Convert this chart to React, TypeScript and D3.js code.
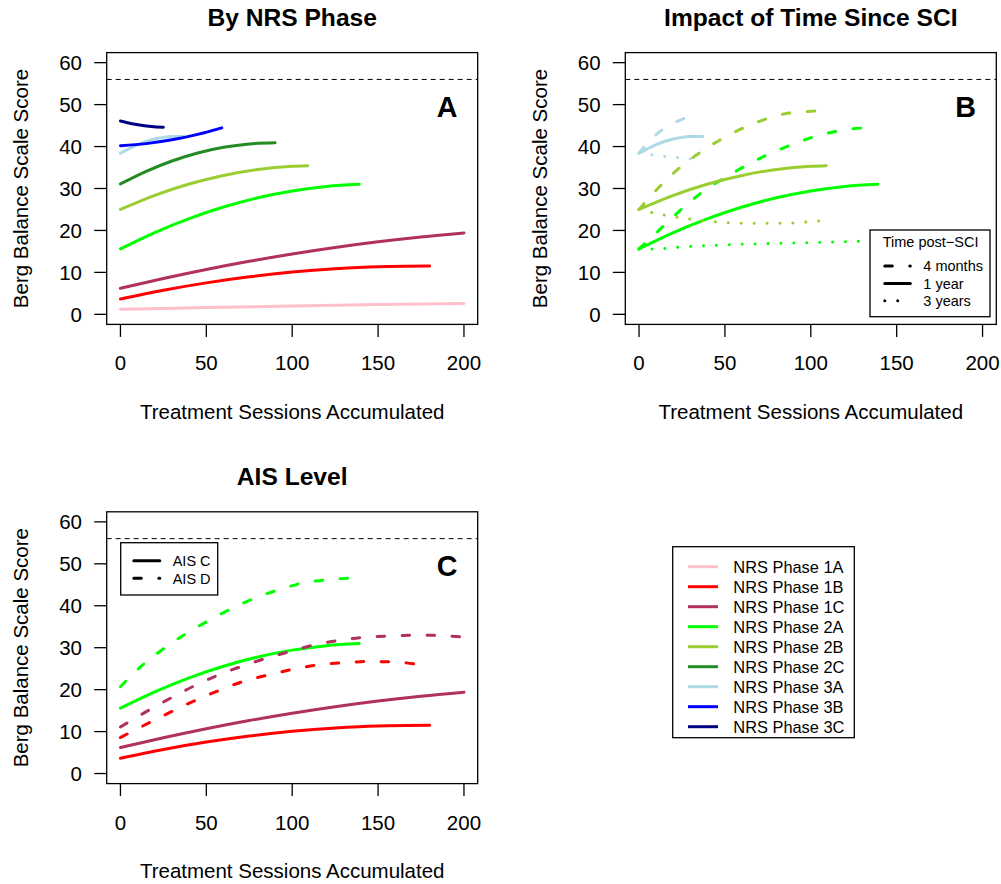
import * as d3 from "d3";

// NRS phase names and colours
const phaseNames = [
  "NRS Phase 1A", "NRS Phase 1B", "NRS Phase 1C",
  "NRS Phase 2A", "NRS Phase 2B", "NRS Phase 2C",
  "NRS Phase 3A", "NRS Phase 3B", "NRS Phase 3C",
];
const phaseColors = [
  "#FFC0CB", "#FF0000", "#B03060",
  "#00FF00", "#9ACD32", "#228B22",
  "#ADD8E6", "#0000FF", "#000080",
];

const xTicks = [0, 50, 100, 150, 200];
const yTicks = [0, 10, 20, 30, 40, 50, 60];
const maxBerg = 56;

type Pt = [number, number];

// [sessions, berg score]
const phase1A: Pt[] = [[0, 1.2], [50, 1.6], [100, 2.0], [150, 2.35], [200, 2.6]];
const phase1B: Pt[] = [[0, 3.65], [25, 5.74], [50, 7.5], [75, 8.95], [100, 10.07], [125, 10.87], [150, 11.35], [180, 11.5]];
const phase1C: Pt[] = [[0, 6.2], [25, 8.54], [50, 10.69], [75, 12.64], [100, 14.39], [125, 15.94], [150, 17.3], [175, 18.45], [200, 19.4]];
const phase2A: Pt[] = [[0, 15.6], [20, 19.49], [40, 22.82], [60, 25.58], [80, 27.79], [100, 29.42], [120, 30.49], [139, 31.0]];
const phase2B: Pt[] = [[0, 25], [20, 28.36], [40, 31.07], [60, 33.12], [80, 34.53], [100, 35.28], [109, 35.41]];
const phase2C: Pt[] = [[0, 31.1], [15, 34.1], [30, 36.56], [45, 38.46], [60, 39.82], [75, 40.63], [90, 40.9]];
const phase3A: Pt[] = [[0, 38.4], [10, 40.48], [20, 41.82], [30, 42.42], [37, 42.4]];
const phase3B: Pt[] = [[0, 40.2], [15, 40.7], [30, 41.6], [45, 42.9], [59, 44.45]];
const phase3C: Pt[] = [[0, 46.1], [6, 45.5], [12, 45.1], [18, 44.8], [25, 44.6]];

// panel B: 4 months / 3 years post-SCI
const phase2A4mo: Pt[] = [[0, 15.6], [12, 20.2], [27, 25.9], [38, 29.5], [50, 32.6], [62, 35.4], [74, 37.9], [88, 40.3], [101, 42.2], [117, 43.8], [132, 44.5]];
const phase2A3yr: Pt[] = [[0, 15.6], [8, 15.6], [30, 16.2], [60, 16.7], [90, 17.0], [112, 17.25], [140, 17.5]];
const phase2B4mo: Pt[] = [[0, 25], [10, 29.6], [25, 35.4], [40, 39.8], [55, 43.3], [70, 46.0], [85, 47.8], [105, 48.5]];
const phase2B3yr: Pt[] = [[0, 25], [8, 24.2], [23, 23.1], [38, 22.3], [52, 21.85], [67, 21.7], [82, 21.7], [97, 22.0], [105, 22.25]];
const phase3A4mo: Pt[] = [[0, 38.4], [5, 40.9], [10, 42.9], [15, 44.4], [20, 45.6], [25, 46.5], [29, 47.1]];
const phase3A3yr: Pt[] = [[0, 38.4], [8, 38.0], [16, 37.6], [23, 37.35], [31, 37.0]];

// panel C: AIS D
const phase1BaisD: Pt[] = [[0, 8.6], [22, 13.2], [44, 17.5], [58, 19.9], [71, 21.9], [86, 23.5], [101, 24.9], [115, 25.9], [130, 26.4], [144, 26.7], [159, 26.6], [174, 26.0]];
const phase1CaisD: Pt[] = [[0, 11.1], [20, 15.9], [42, 20.7], [57, 23.5], [71, 25.6], [85, 27.5], [99, 29.1], [112, 30.6], [128, 31.8], [142, 32.5], [157, 32.8], [172, 33.0], [186, 32.9], [200, 32.5]];
const phase2AaisD: Pt[] = [[0, 20.7], [13, 25.9], [27, 30.3], [40, 33.8], [52, 36.6], [65, 39.4], [78, 41.8], [92, 43.8], [106, 45.4], [120, 46.2], [136, 46.6]];

const timeLabels = ["4 months", "1 year", "3 years"];
const aisLabels = ["AIS C", "AIS D"];

const FONT = "Liberation Sans, Arial, Helvetica, sans-serif";
const DASH = "7.5 17.5";
const DOT = "0.01 12.9";

interface Series { data: Pt[]; color: string; dash?: string }

const panelA: Series[] = [phase1A, phase1B, phase1C, phase2A, phase2B, phase2C, phase3A, phase3B, phase3C]
  .map((data, i) => ({ data, color: phaseColors[i] }));

const panelB: Series[] = [
  { data: phase2A, color: phaseColors[3] },
  { data: phase2A4mo, color: phaseColors[3], dash: DASH },
  { data: phase2A3yr, color: phaseColors[3], dash: DOT },
  { data: phase2B, color: phaseColors[4] },
  { data: phase2B4mo, color: phaseColors[4], dash: DASH },
  { data: phase2B3yr, color: phaseColors[4], dash: DOT },
  { data: phase3A, color: phaseColors[6] },
  { data: phase3A4mo, color: phaseColors[6], dash: DASH },
  { data: phase3A3yr, color: phaseColors[6], dash: DOT },
];

const panelC: Series[] = [
  { data: phase1B, color: phaseColors[1] },
  { data: phase1C, color: phaseColors[2] },
  { data: phase2A, color: phaseColors[3] },
  { data: phase1BaisD, color: phaseColors[1], dash: DASH },
  { data: phase1CaisD, color: phaseColors[2], dash: DASH },
  { data: phase2AaisD, color: phaseColors[3], dash: DASH },
];

const PL = 106.7, PR = 477.7, PT = 52.6, PB = 324.4;

function Panel({ ox, oy, title, letter, series, id, children }: {
  ox: number; oy: number; title: string; letter: string; series: Series[]; id: string; children?: any;
}) {
  const x = d3.scaleLinear().domain([-8, 208]).range([PL + ox, PR + ox]);
  const y = d3.scaleLinear().domain([-2.4, 62.4]).range([PB + oy, PT + oy]);
  const line = d3.line<Pt>().x(d => x(d[0])).y(d => y(d[1])).curve(d3.curveMonotoneX);
  const [x0, x1] = x.range();
  const [y0, y1] = y.range();
  const cx = (x0 + x1) / 2;
  const cy = (y0 + y1) / 2;
  return (
    <g fontFamily={FONT}>
      <clipPath id={id}>
        <rect x={x0} y={y1} width={x1 - x0} height={y0 - y1} />
      </clipPath>
      <text x={cx} y={26 + oy} textAnchor="middle" fontWeight="bold" fontSize={24.6}>{title}</text>
      <line x1={x0} x2={x1} y1={y(maxBerg)} y2={y(maxBerg)} stroke="#000" strokeWidth={1} strokeDasharray="5 4" />
      <g clipPath={`url(#${id})`}>
        {series.map((s, i) => (
          <path key={i} d={line(s.data) || ""} fill="none" stroke={s.color} strokeWidth={3}
            strokeLinecap="round" strokeDasharray={s.dash} />
        ))}
      </g>
      <rect x={x0} y={y1} width={x1 - x0} height={y0 - y1} fill="none" stroke="#000" strokeWidth={1.3} />
      {xTicks.map(t => (
        <g key={t}>
          <line x1={x(t)} x2={x(t)} y1={y0} y2={y0 + 12.5} stroke="#000" strokeWidth={1.3} />
          <text x={x(t)} y={y0 + 46} textAnchor="middle" fontSize={20.5}>{t}</text>
        </g>
      ))}
      {yTicks.map(t => (
        <g key={t}>
          <line x1={x0} x2={x0 - 12.5} y1={y(t)} y2={y(t)} stroke="#000" strokeWidth={1.3} />
          <text x={x0 - 24.7} y={y(t) + 7.3} textAnchor="end" fontSize={20.5}>{t}</text>
        </g>
      ))}
      <text x={cx} y={y0 + 94.6} textAnchor="middle" fontSize={20.5}>Treatment Sessions Accumulated</text>
      <text transform={`translate(${x0 - 78.7},${cy}) rotate(-90)`} textAnchor="middle" fontSize={20.5}>
        Berg Balance Scale Score
      </text>
      <text x={x1 - 30.7} y={y1 + 64.1} textAnchor="middle" fontWeight="bold" fontSize={28.7}>{letter}</text>
      {children}
    </g>
  );
}

export default function App() {
  const timeDash = [DASH, undefined, DOT];
  return (
    <svg width={1001} height={884} style={{ position: "absolute", left: 0, top: 0, background: "#fff" }}>
      <rect width={1001} height={884} fill="#fff" />
      <Panel ox={0} oy={0} title="By NRS Phase" letter="A" series={panelA} id="clipA" />
      <Panel ox={518.6} oy={0} title="Impact of Time Since SCI" letter="B" series={panelB} id="clipB">
        <g fontFamily={FONT} fontSize={14.5}>
          <rect x={870} y={230} width={120} height={86.7} fill="#fff" stroke="#000" strokeWidth={1.3} />
          <text x={882.7} y={247}>Time post−SCI</text>
          {timeLabels.map((t, i) => (
            <g key={t}>
              <line x1={884.8} x2={910.3} y1={266 + i * 17.4} y2={266 + i * 17.4} stroke="#000" strokeWidth={3}
                strokeLinecap="round" strokeDasharray={timeDash[i]} />
              <text x={923.3} y={271.2 + i * 17.4}>{t}</text>
            </g>
          ))}
        </g>
      </Panel>
      <Panel ox={0} oy={459.2} title="AIS Level" letter="C" series={panelC} id="clipC">
        <g fontFamily={FONT} fontSize={14.5}>
          <rect x={120.7} y={542.7} width={97} height={52.3} fill="#fff" stroke="#000" strokeWidth={1.3} />
          {aisLabels.map((t, i) => (
            <g key={t}>
              <line x1={133.8} x2={159.8} y1={560.7 + i * 17.6} y2={560.7 + i * 17.6} stroke="#000" strokeWidth={3}
                strokeLinecap="round" strokeDasharray={i === 1 ? DASH : undefined} />
              <text x={172.7} y={565.9 + i * 17.6}>{t}</text>
            </g>
          ))}
        </g>
      </Panel>
      <g fontFamily={FONT} fontSize={16.4}>
        <rect x={672.7} y={546.7} width={181.6} height={191} fill="#fff" stroke="#000" strokeWidth={1.3} />
        {phaseNames.map((n, i) => (
          <g key={n}>
            <line x1={688} x2={718} y1={566.7 + i * 20} y2={566.7 + i * 20} stroke={phaseColors[i]} strokeWidth={3} />
            <text x={733.3} y={572.6 + i * 20}>{n}</text>
          </g>
        ))}
      </g>
    </svg>
  );
}
